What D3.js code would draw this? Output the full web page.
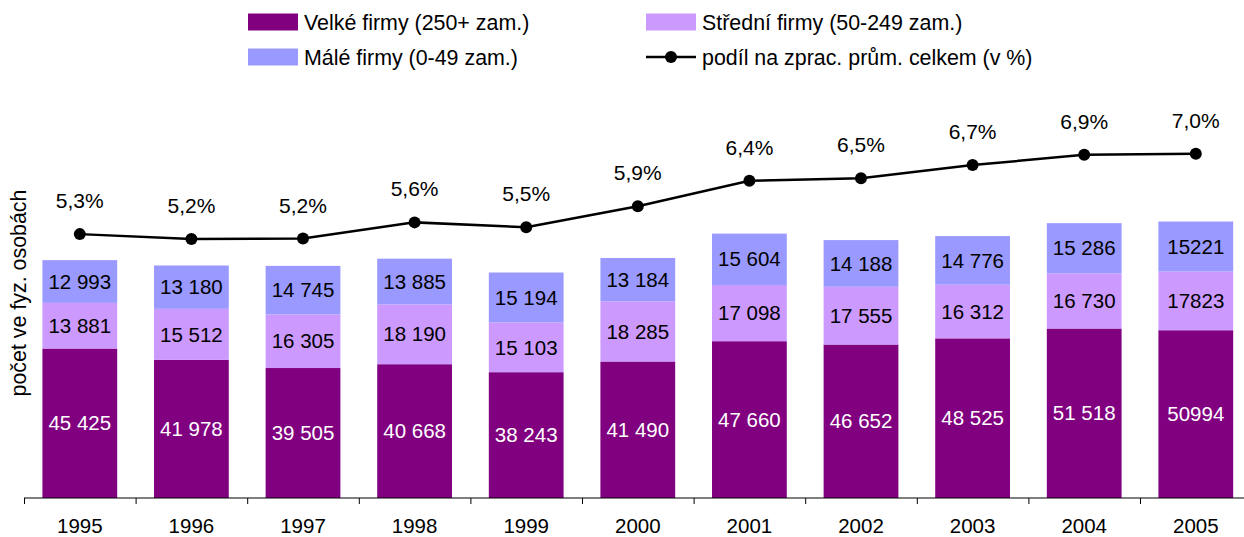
<!DOCTYPE html>
<html lang="cs">
  <head>
    <meta charset="UTF-8" />
    <title>Zaměstnanost podle velikosti firem</title>
    <script src="https://d3js.org/d3.v7.min.js"></script>
    <style>
      body {
        margin: 0;
        background: #fff;
      }
      svg text {
        font-family: Arial, "Liberation Sans", sans-serif;
      }
    </style>
  </head>
  <body>
    <script>
      // data
      const years = ["1995", "1996", "1997", "1998", "1999", "2000", "2001", "2002", "2003", "2004", "2005"];
      const velke = [45425, 41978, 39505, 40668, 38243, 41490, 47660, 46652, 48525, 51518, 50994];
      const stredni = [13881, 15512, 16305, 18190, 15103, 18285, 17098, 17555, 16312, 16730, 17823];
      const male = [12993, 13180, 14745, 13885, 15194, 13184, 15604, 14188, 14776, 15286, 15221];
      const podil = [5.32, 5.22, 5.23, 5.56, 5.46, 5.89, 6.41, 6.46, 6.73, 6.94, 6.96];
      // the last year is printed without a thousands gap in the source
      const noGap = ["2005"];

      const seriesNames = ["Velké firmy (250+ zam.)", "Střední firmy (50-249 zam.)", "Málé firmy (0-49 zam.)"];
      const lineName = "podíl na zprac. prům. celkem (v %)";
      const colors = ["#800080", "#cc99ff", "#9999ff"];
      const labelColors = ["#fff", "#000", "#000"];

      const width = 1244, height = 537;
      const svg = d3.select("body").append("svg")
        .attr("width", width)
        .attr("height", height);

      const left = 24, step = 111.6;
      const x = d3.scaleBand()
        .domain(years)
        .range([left, left + step * years.length])
        .paddingInner(0.33)
        .paddingOuter(0.165);

      const y = d3.scaleLinear().domain([0, 100000]).range([498, 169]);
      const y2 = d3.scaleLinear().domain([0, 7]).range([494.5, 151.9]);

      const rows = years.map((yr, i) => ({ year: yr, v: [velke[i], stredni[i], male[i]] }));
      const stack = d3.stack().keys([0, 1, 2]).value((d, k) => d.v[k]);
      const layers = stack(rows);

      const cs = d3.formatLocale({ decimal: ",", thousands: " ", grouping: [3], currency: ["", ""] });
      const fmtGap = cs.format(",d");
      const fmtPct = cs.format(".1f");

      // bars
      const g = svg.append("g");
      layers.forEach((layer, k) => {
        g.selectAll(".s" + k)
          .data(layer)
          .join("rect")
          .attr("x", d => x(d.data.year))
          .attr("width", x.bandwidth())
          .attr("y", d => y(d[1]))
          .attr("height", d => y(d[0]) - y(d[1]))
          .attr("fill", colors[k]);

        g.selectAll(".t" + k)
          .data(layer)
          .join("text")
          .attr("x", d => x(d.data.year) + x.bandwidth() / 2)
          .attr("y", d => (y(d[0]) + y(d[1])) / 2)
          .attr("dy", "0.35em")
          .attr("text-anchor", "middle")
          .attr("font-size", 20.5)
          .attr("fill", labelColors[k])
          .text(d => {
            const v = d[1] - d[0];
            return noGap.includes(d.data.year) ? String(v) : fmtGap(v);
          });
      });

      // x axis: baseline with ticks between categories
      svg.append("line")
        .attr("x1", left).attr("x2", left + step * years.length)
        .attr("y1", y(0)).attr("y2", y(0))
        .attr("stroke", "#000").attr("stroke-width", 1);
      svg.selectAll(".tick")
        .data(d3.range(years.length + 1))
        .join("line")
        .attr("x1", i => left + i * step + 0.5)
        .attr("x2", i => left + i * step + 0.5)
        .attr("y1", y(0))
        .attr("y2", y(0) + 6)
        .attr("stroke", "#000");
      svg.selectAll(".year")
        .data(years)
        .join("text")
        .attr("x", d => x(d) + x.bandwidth() / 2)
        .attr("y", 533)
        .attr("text-anchor", "middle")
        .attr("font-size", 20.5)
        .text(d => d);

      // y title
      svg.append("text")
        .attr("transform", "translate(26,293) rotate(-90)")
        .attr("text-anchor", "middle")
        .attr("font-size", 21.4)
        .text("počet ve fyz. osobách");

      // share line
      const cx = i => x(years[i]) + x.bandwidth() / 2;
      const line = d3.line().x((d, i) => cx(i)).y(d => y2(d));
      svg.append("path")
        .datum(podil)
        .attr("d", line)
        .attr("fill", "none")
        .attr("stroke", "#000")
        .attr("stroke-width", 2.5);
      svg.selectAll(".dot")
        .data(podil)
        .join("circle")
        .attr("cx", (d, i) => cx(i))
        .attr("cy", d => y2(d))
        .attr("r", 6)
        .attr("fill", "#000");
      svg.selectAll(".pct")
        .data(podil)
        .join("text")
        .attr("x", (d, i) => cx(i))
        .attr("y", d => y2(d) - 26)
        .attr("text-anchor", "middle")
        .attr("font-size", 21)
        .text(d => fmtPct(d) + "%");

      // legend
      const legend = [
        { name: seriesNames[0], color: colors[0], x: 248, y: 22 },
        { name: seriesNames[1], color: colors[1], x: 646, y: 22 },
        { name: seriesNames[2], color: colors[2], x: 248, y: 57 },
        { name: lineName, color: null, x: 646, y: 57 }
      ];
      const lg = svg.selectAll(".lg").data(legend).join("g")
        .attr("transform", d => `translate(${d.x},${d.y})`);
      lg.filter(d => d.color).append("rect")
        .attr("x", 0).attr("y", -8.5)
        .attr("width", 50).attr("height", 17)
        .attr("fill", d => d.color);
      const ll = lg.filter(d => !d.color);
      ll.append("line")
        .attr("x1", 0).attr("x2", 50)
        .attr("stroke", "#000").attr("stroke-width", 2.5);
      ll.append("circle").attr("cx", 25).attr("r", 6).attr("fill", "#000");
      lg.append("text")
        .attr("x", 56)
        .attr("dy", "0.35em")
        .attr("font-size", 21.4)
        .text(d => d.name);
    </script>
  </body>
</html>
